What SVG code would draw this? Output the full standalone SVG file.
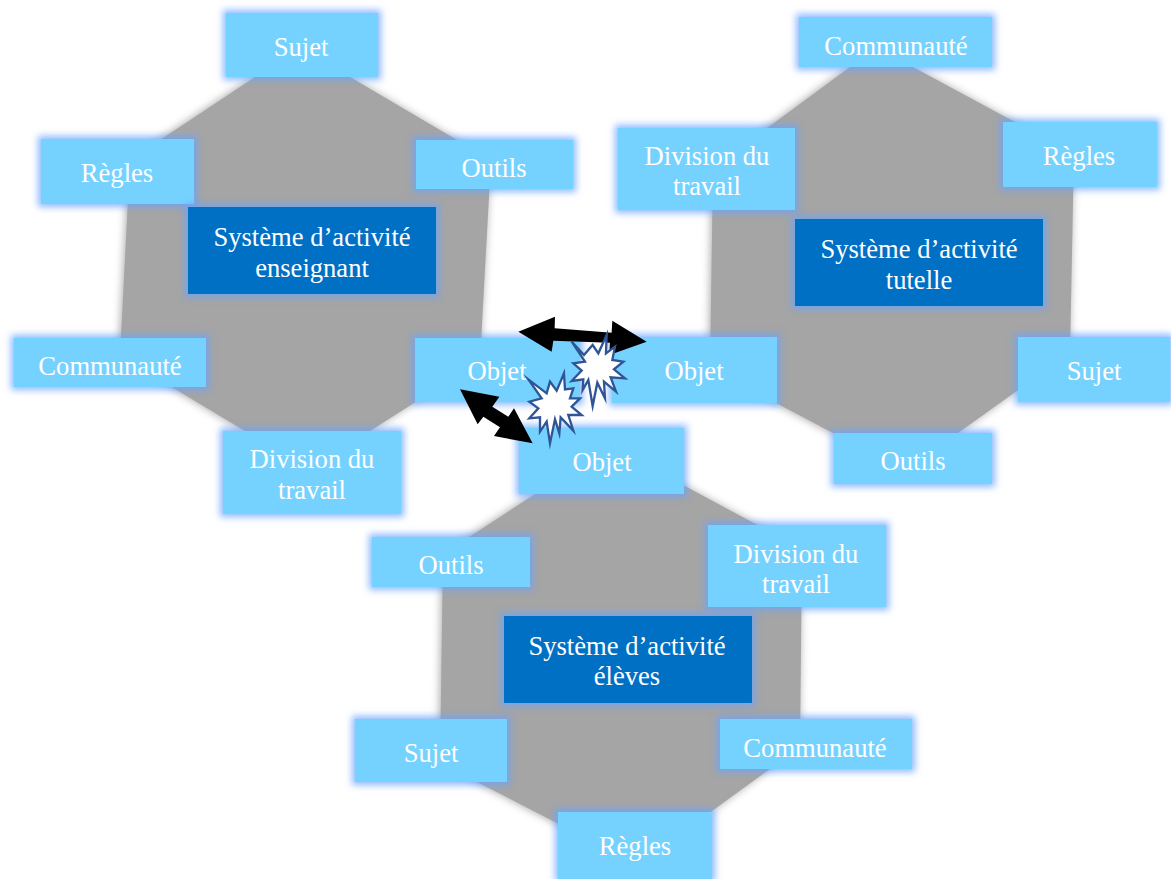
<svg xmlns="http://www.w3.org/2000/svg" width="1171" height="879" viewBox="0 0 1171 879">
<defs>
<filter id="shadow" x="-10%" y="-10%" width="120%" height="120%" color-interpolation-filters="sRGB"><feGaussianBlur in="SourceAlpha" stdDeviation="4"/><feOffset dx="-1" dy="0"/><feColorMatrix values="0 0 0 0 0 0 0 0 0 0 0 0 0 0 0 0 0 0 0.35 0"/><feMerge><feMergeNode/><feMergeNode in="SourceGraphic"/></feMerge></filter>
<filter id="glow" x="-20%" y="-50%" width="140%" height="200%" color-interpolation-filters="sRGB"><feMorphology in="SourceAlpha" operator="dilate" radius="3"/><feGaussianBlur stdDeviation="3.5"/><feColorMatrix values="0 0 0 0 0.4 0 0 0 0 0.64 0 0 0 0 1 0 0 0 0.75 0"/><feMerge><feMergeNode/><feMergeNode in="SourceGraphic"/></feMerge></filter>
</defs>
<style>
text{font-family:"Liberation Serif","Times New Roman",serif;font-size:26.6px;fill:#fff;text-anchor:middle}
.oct{fill:#a5a5a5;filter:url(#shadow)}
.b{fill:#75d2ff;filter:url(#glow)}
.d{fill:#0070c5;filter:url(#glow)}
.star{fill:#fff;stroke:#2f5597;stroke-width:7;stroke-miterlimit:10}
</style>
<g id="octagons">
<polygon class="oct" points="255,77 350,77 491,160 480,361 370,431 245,431 120,356 130,160"/>
<polygon class="oct" points="850,67 913,67 1074,154 1070,353 958,433 833,433 710,368 713,168"/>
<polygon class="oct" points="549,485 683,485 802,549 800,747 690,827 590,840 440,763 443,554"/>
</g>
<g id="sys1">
<g id="s1-sujet"><rect class="b" x="226" y="13" width="152" height="64"/><text x="301" y="56">Sujet</text></g>
<g id="s1-regles"><rect class="b" x="41" y="139" width="153" height="65"/><text x="117" y="182">Règles</text></g>
<g id="s1-outils"><rect class="b" x="416" y="140" width="157" height="49"/><text x="494" y="177">Outils</text></g>
<g id="s1-centre"><rect class="d" x="188" y="207" width="248" height="87"/><text x="312" y="246">Système d’activité</text><text x="312" y="277">enseignant</text></g>
<g id="s1-communaute"><rect class="b" x="14" y="338" width="192" height="49"/><text x="110" y="375">Communauté</text></g>
<g id="s1-objet"><rect class="b" x="415" y="338" width="165" height="64"/><text x="497" y="380">Objet</text></g>
<g id="s1-division"><rect class="b" x="223" y="431" width="178" height="83"/><text x="312" y="468">Division du</text><text x="312" y="499">travail</text></g>
</g>
<g id="sys2">
<g id="s2-communaute"><rect class="b" x="799" y="17" width="193" height="50"/><text x="896" y="55">Communauté</text></g>
<g id="s2-division"><rect class="b" x="618" y="128" width="177" height="82"/><text x="707" y="165">Division du</text><text x="707" y="195">travail</text></g>
<g id="s2-regles"><rect class="b" x="1003" y="122" width="154" height="65"/><text x="1079" y="165">Règles</text></g>
<g id="s2-centre"><rect class="d" x="795" y="219" width="248" height="87"/><text x="919" y="258">Système d’activité</text><text x="919" y="289">tutelle</text></g>
<g id="s2-objet"><rect class="b" x="612" y="337" width="165" height="66"/><text x="694" y="380">Objet</text></g>
<g id="s2-sujet"><rect class="b" x="1018" y="337" width="152" height="65"/><text x="1094" y="380">Sujet</text></g>
<g id="s2-outils"><rect class="b" x="834" y="433" width="158" height="51"/><text x="913" y="470">Outils</text></g>
</g>
<g id="sys3">
<g id="s3-objet"><rect class="b" x="519" y="428" width="165" height="66"/><text x="602" y="471">Objet</text></g>
<g id="s3-outils"><rect class="b" x="372" y="537" width="158" height="50"/><text x="451" y="574">Outils</text></g>
<g id="s3-division"><rect class="b" x="708" y="525" width="178" height="82"/><text x="796" y="563">Division du</text><text x="796" y="593">travail</text></g>
<g id="s3-centre"><rect class="d" x="504" y="616" width="248" height="87"/><text x="627" y="655">Système d’activité</text><text x="627" y="685">élèves</text></g>
<g id="s3-sujet"><rect class="b" x="355" y="719" width="152" height="63"/><text x="431" y="762">Sujet</text></g>
<g id="s3-communaute"><rect class="b" x="720" y="719" width="192" height="50"/><text x="815" y="757">Communauté</text></g>
<g id="s3-regles"><rect class="b" x="558" y="812" width="154" height="67"/><text x="635" y="855">Règles</text></g>
</g>
<g id="connectors">
<polygon points="235,95 345,50 344,85 515,98 517,62 620,125 508,165 510,128 340,122 335,155" transform="translate(440 300) scale(.3333)"/>
<polygon points="60,268 178,290 157,320 205,350 222,325 278,430 162,408 180,382 130,350 113,373" transform="translate(440 300) scale(.3333)"/>
</g>
<g id="conflicts" transform="translate(440 300) scale(.3333)">
<polygon class="star" points="395,125 432,165 458,135 475,160 500,105 498,160 525,140 517,180 550,185 522,208 555,235 512,232 528,275 492,245 495,295 472,248 458,318 445,240 428,270 430,238 395,243 425,212 400,190 435,185"/>
<polygon class="star" points="265,238 320,280 330,245 350,272 372,220 375,268 400,265 390,295 420,295 395,320 425,345 385,345 400,392 362,352 358,400 345,358 330,430 320,365 300,395 300,352 268,355 295,325 268,305 305,295"/>
</g>
</svg>
